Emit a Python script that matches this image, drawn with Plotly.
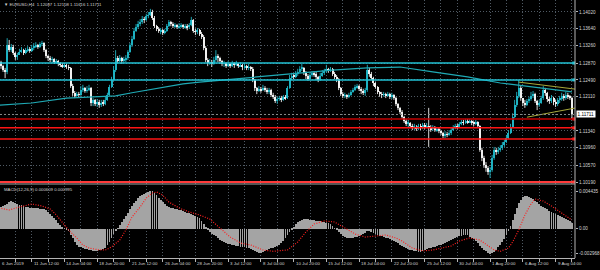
import plotly.graph_objects as go

# ---------------- data ----------------
closes = [
    1.1289, 1.1280, 1.1271, 1.1267, 1.1328, 1.1316, 1.1323, 1.1310, 1.1301, 1.1305,
    1.1312, 1.1316, 1.1310, 1.1316, 1.1319, 1.1314, 1.1321, 1.1325, 1.1328, 1.1323,
    1.1330, 1.1332, 1.1316, 1.1303, 1.1298, 1.1294, 1.1296, 1.1289, 1.1292, 1.1287,
    1.1283, 1.1280, 1.1283, 1.1278, 1.1276, 1.1235, 1.1220, 1.1213, 1.1217, 1.1215,
    1.1226, 1.1231, 1.1224, 1.1226, 1.1231, 1.1197, 1.1204, 1.1195, 1.1199, 1.1192,
    1.1197, 1.1195, 1.1204, 1.1215, 1.1233, 1.1249, 1.1271, 1.1298, 1.1292, 1.1298,
    1.1292, 1.1294, 1.1298, 1.1312, 1.1328, 1.1341, 1.1359, 1.1368, 1.1375, 1.1379,
    1.1386, 1.1384, 1.1393, 1.1395, 1.1402, 1.1388, 1.1370, 1.1364, 1.1359, 1.1361,
    1.1355, 1.1359, 1.1370, 1.1379, 1.1375, 1.1370, 1.1373, 1.1368, 1.1370, 1.1373,
    1.1368, 1.1370, 1.1368, 1.1373, 1.1384, 1.1359, 1.1357, 1.1361, 1.1352, 1.1346,
    1.1321, 1.1294, 1.1287, 1.1289, 1.1285, 1.1294, 1.1303, 1.1298, 1.1292, 1.1285,
    1.1287, 1.1280, 1.1285, 1.1280, 1.1287, 1.1283, 1.1285, 1.1280, 1.1283, 1.1278,
    1.1280, 1.1276, 1.1278, 1.1274, 1.1249, 1.1231, 1.1224, 1.1229, 1.1226, 1.1231,
    1.1226, 1.1222, 1.1226, 1.1215, 1.1211, 1.1202, 1.1206, 1.1208, 1.1204, 1.1211,
    1.1208, 1.1231, 1.1253, 1.1258, 1.1256, 1.1262, 1.1267, 1.1274, 1.1276, 1.1265,
    1.1258, 1.1251, 1.1260, 1.1265, 1.1262, 1.1256, 1.1249, 1.1258, 1.1265, 1.1269,
    1.1274, 1.1269, 1.1274, 1.1262, 1.1256, 1.1251, 1.1231, 1.1217, 1.1213, 1.1215,
    1.1211, 1.1215, 1.1222, 1.1226, 1.1233, 1.1235, 1.1229, 1.1224, 1.1220, 1.1226,
    1.1271, 1.1262, 1.1253, 1.1242, 1.1233, 1.1222, 1.1217, 1.1215, 1.1217, 1.1213,
    1.1217, 1.1211, 1.1215, 1.1208, 1.1195, 1.1186, 1.1177, 1.1165, 1.1156, 1.1150,
    1.1152, 1.1145, 1.1141, 1.1143, 1.1138, 1.1145, 1.1141, 1.1147, 1.1143, 1.1145,
    1.1141, 1.1138, 1.1143, 1.1136, 1.1138, 1.1134, 1.1129, 1.1123, 1.1127, 1.1125,
    1.1129, 1.1136, 1.1143, 1.1145, 1.1143, 1.1150, 1.1154, 1.1152, 1.1156, 1.1154,
    1.1156, 1.1152, 1.1150, 1.1154, 1.1145, 1.1091, 1.1073, 1.1057, 1.1051, 1.1042,
    1.1046, 1.1073, 1.1091, 1.1087, 1.1091, 1.1096, 1.1102, 1.1109, 1.1118, 1.1129,
    1.1143, 1.1165, 1.1192, 1.1213, 1.1231, 1.1208, 1.1197, 1.1192, 1.1202, 1.1206,
    1.1213, 1.1217, 1.1202, 1.1192, 1.1197, 1.1208, 1.1226, 1.1220, 1.1206, 1.1202,
    1.1208, 1.1199, 1.1195, 1.1204, 1.1206, 1.1213, 1.1208, 1.1215, 1.1211, 1.12087,
    1.11711,
]
highs = [
    1.1298, 1.1292, 1.1283, 1.1276, 1.1343, 1.1339, 1.1330, 1.1328, 1.1312, 1.1310,
    1.1319, 1.1323, 1.1319, 1.1321, 1.1325, 1.1323, 1.1328, 1.1332, 1.1334, 1.1330,
    1.1334, 1.1337, 1.1334, 1.1319, 1.1305, 1.1303, 1.1301, 1.1298, 1.1296, 1.1294,
    1.1289, 1.1287, 1.1287, 1.1285, 1.1283, 1.1278, 1.1240, 1.1224, 1.1222, 1.1222,
    1.1235, 1.1238, 1.1233, 1.1235, 1.1238, 1.1233, 1.1208, 1.1206, 1.1206, 1.1204,
    1.1204, 1.1204, 1.1211, 1.1220, 1.1238, 1.1256, 1.1280, 1.1316, 1.1303, 1.1305,
    1.1301, 1.1301, 1.1305, 1.1316, 1.1332, 1.1348, 1.1366, 1.1375, 1.1382, 1.1386,
    1.1393, 1.1391, 1.1398, 1.1402, 1.1409, 1.1407, 1.1393, 1.1373, 1.1368, 1.1366,
    1.1364, 1.1364, 1.1375, 1.1384, 1.1382, 1.1379, 1.1377, 1.1375, 1.1377, 1.1377,
    1.1375, 1.1375, 1.1375, 1.1377, 1.1391, 1.1386, 1.1364, 1.1366, 1.1364, 1.1357,
    1.1350, 1.1325, 1.1298, 1.1296, 1.1294, 1.1301, 1.1316, 1.1307, 1.1301, 1.1294,
    1.1292, 1.1289, 1.1292, 1.1287, 1.1292, 1.1289, 1.1292, 1.1287, 1.1289, 1.1285,
    1.1285, 1.1283, 1.1285, 1.1280, 1.1278, 1.1251, 1.1233, 1.1235, 1.1233, 1.1238,
    1.1235, 1.1231, 1.1231, 1.1229, 1.1220, 1.1215, 1.1211, 1.1213, 1.1213, 1.1215,
    1.1215, 1.1235, 1.1260, 1.1265, 1.1262, 1.1269, 1.1274, 1.1280, 1.1285, 1.1278,
    1.1269, 1.1262, 1.1265, 1.1269, 1.1269, 1.1267, 1.1258, 1.1265, 1.1271, 1.1274,
    1.1283, 1.1276, 1.1278, 1.1276, 1.1267, 1.1260, 1.1253, 1.1233, 1.1222, 1.1220,
    1.1217, 1.1220, 1.1226, 1.1231, 1.1238, 1.1240, 1.1238, 1.1233, 1.1229, 1.1231,
    1.1283, 1.1276, 1.1267, 1.1256, 1.1244, 1.1235, 1.1224, 1.1222, 1.1222, 1.1220,
    1.1222, 1.1220, 1.1220, 1.1217, 1.1211, 1.1197, 1.1188, 1.1181, 1.1168, 1.1161,
    1.1159, 1.1154, 1.1150, 1.1150, 1.1147, 1.1150, 1.1150, 1.1152, 1.1152, 1.1152,
    1.1186, 1.1147, 1.1147, 1.1145, 1.1143, 1.1141, 1.1136, 1.1132, 1.1134, 1.1132,
    1.1136, 1.1141, 1.1147, 1.1150, 1.1150, 1.1154, 1.1159, 1.1159, 1.1161, 1.1161,
    1.1161, 1.1159, 1.1156, 1.1159, 1.1156, 1.1147, 1.1096, 1.1078, 1.1064, 1.1055,
    1.1053, 1.1080, 1.1098, 1.1096, 1.1098, 1.1102, 1.1109, 1.1114, 1.1125, 1.1136,
    1.1150, 1.1174, 1.1204, 1.1222, 1.1249, 1.1235, 1.1208, 1.1204, 1.1206, 1.1211,
    1.1222, 1.1224, 1.1220, 1.1204, 1.1204, 1.1213, 1.1235, 1.1231, 1.1222, 1.1211,
    1.1215, 1.1211, 1.1204, 1.1208, 1.1213, 1.1220, 1.1217, 1.1222, 1.1220, 1.1215,
    1.12108,
]
lows = [
    1.1280, 1.1274, 1.1267, 1.1253, 1.1262, 1.1312, 1.1312, 1.1305, 1.1294, 1.1294,
    1.1305, 1.1310, 1.1305, 1.1307, 1.1312, 1.1310, 1.1312, 1.1316, 1.1321, 1.1319,
    1.1321, 1.1325, 1.1312, 1.1298, 1.1292, 1.1289, 1.1287, 1.1285, 1.1285, 1.1280,
    1.1278, 1.1276, 1.1276, 1.1274, 1.1271, 1.1231, 1.1213, 1.1208, 1.1211, 1.1211,
    1.1213, 1.1222, 1.1220, 1.1220, 1.1224, 1.1190, 1.1190, 1.1190, 1.1188, 1.1186,
    1.1188, 1.1190, 1.1192, 1.1202, 1.1213, 1.1231, 1.1247, 1.1267, 1.1287, 1.1289,
    1.1285, 1.1287, 1.1289, 1.1294, 1.1310, 1.1323, 1.1339, 1.1357, 1.1364, 1.1370,
    1.1375, 1.1377, 1.1382, 1.1388, 1.1393, 1.1384, 1.1366, 1.1359, 1.1355, 1.1352,
    1.1350, 1.1352, 1.1357, 1.1368, 1.1370, 1.1366, 1.1366, 1.1364, 1.1364, 1.1366,
    1.1364, 1.1364, 1.1361, 1.1364, 1.1370, 1.1355, 1.1350, 1.1352, 1.1348, 1.1341,
    1.1316, 1.1289, 1.1280, 1.1283, 1.1278, 1.1283, 1.1289, 1.1289, 1.1285, 1.1280,
    1.1278, 1.1276, 1.1278, 1.1276, 1.1278, 1.1276, 1.1280, 1.1276, 1.1278, 1.1271,
    1.1274, 1.1271, 1.1271, 1.1269, 1.1244, 1.1224, 1.1217, 1.1222, 1.1220, 1.1224,
    1.1222, 1.1217, 1.1217, 1.1211, 1.1206, 1.1197, 1.1195, 1.1202, 1.1199, 1.1202,
    1.1204, 1.1206, 1.1229, 1.1249, 1.1251, 1.1253, 1.1258, 1.1265, 1.1269, 1.1260,
    1.1251, 1.1247, 1.1249, 1.1256, 1.1256, 1.1249, 1.1244, 1.1247, 1.1256, 1.1260,
    1.1265, 1.1265, 1.1267, 1.1258, 1.1251, 1.1244, 1.1226, 1.1213, 1.1208, 1.1208,
    1.1206, 1.1208, 1.1213, 1.1220, 1.1224, 1.1229, 1.1224, 1.1217, 1.1215, 1.1213,
    1.1222, 1.1256, 1.1249, 1.1235, 1.1229, 1.1217, 1.1211, 1.1208, 1.1211, 1.1208,
    1.1211, 1.1206, 1.1206, 1.1204, 1.1190, 1.1181, 1.1172, 1.1161, 1.1152, 1.1145,
    1.1143, 1.1141, 1.1136, 1.1136, 1.1134, 1.1136, 1.1136, 1.1138, 1.1138, 1.1141,
    1.1098, 1.1132, 1.1134, 1.1132, 1.1132, 1.1129, 1.1125, 1.1118, 1.1118, 1.1120,
    1.1123, 1.1125, 1.1134, 1.1138, 1.1138, 1.1141, 1.1147, 1.1147, 1.1150, 1.1150,
    1.1152, 1.1147, 1.1145, 1.1147, 1.1141, 1.1087, 1.1066, 1.1051, 1.1042, 1.1035,
    1.1028, 1.1042, 1.1069, 1.1080, 1.1082, 1.1087, 1.1091, 1.1098, 1.1107, 1.1116,
    1.1127, 1.1141, 1.1163, 1.1188, 1.1208, 1.1202, 1.1190, 1.1186, 1.1190, 1.1197,
    1.1202, 1.1208, 1.1197, 1.1181, 1.1188, 1.1195, 1.1204, 1.1213, 1.1199, 1.1195,
    1.1197, 1.1192, 1.1188, 1.1190, 1.1197, 1.1202, 1.1202, 1.1204, 1.1206, 1.1204,
    1.11616,
]
first_open = 1.1290

# cyan moving average, read at a few bars
ma_bars = [0, 16, 33, 49, 57, 65, 73, 82, 90, 98, 114, 131, 147, 163, 180, 196, 212, 229, 245, 261, 274, 280]
ma_values = [1.1192, 1.1197, 1.1208, 1.1211, 1.1213, 1.1220, 1.1226, 1.1233, 1.1240, 1.1244, 1.1251,
             1.1258, 1.1265, 1.1271, 1.1276, 1.1278, 1.1267, 1.1256, 1.1242, 1.1233, 1.1224, 1.1222]

cyan_levels = [1.1287, 1.1249]
red_levels = [1.1161, 1.1141, 1.1116, 1.1019]
last_price = 1.11711

tri_upper_bars = [254, 282]
tri_upper = [1.1244, 1.1228]
tri_lower_bars = [258, 282]
tri_lower = [1.1165, 1.1186]

macd_hist = [
    0.00243, 0.00254, 0.00266, 0.00278, 0.00290, 0.00313, 0.00325, 0.00313, 0.00302, 0.00290,
    0.00278, 0.00278, 0.00266, 0.00254, 0.00254, 0.00243, 0.00243, 0.00243, 0.00243, 0.00243,
    0.00231, 0.00231, 0.00231, 0.00219, 0.00195, 0.00172, 0.00148, 0.00124, 0.00101, 0.00065,
    0.00041, 0.00018, 0.00006, -0.00006, -0.00030, -0.00077, -0.00112, -0.00160, -0.00195, -0.00219,
    -0.00219, -0.00231, -0.00243, -0.00243, -0.00254, -0.00254, -0.00266, -0.00266, -0.00266, -0.00254,
    -0.00254, -0.00243, -0.00231, -0.00195, -0.00160, -0.00112, -0.00065, -0.00030, 0.00006, 0.00041,
    0.00077, 0.00112, 0.00148, 0.00183, 0.00231, 0.00266, 0.00302, 0.00325, 0.00361, 0.00384,
    0.00396, 0.00408, 0.00420, 0.00432, 0.004435, 0.00440, 0.00420, 0.00396, 0.00361, 0.00337,
    0.00313, 0.00290, 0.00266, 0.00254, 0.00243, 0.00243, 0.00231, 0.00231, 0.00219, 0.00219,
    0.00207, 0.00195, 0.00183, 0.00183, 0.00172, 0.00160, 0.00148, 0.00136, 0.00124, 0.00089,
    0.00053, 0.00018, -0.00018, -0.00041, -0.00065, -0.00077, -0.00089, -0.00112, -0.00136, -0.00148,
    -0.00160, -0.00172, -0.00183, -0.00183, -0.00195, -0.00195, -0.00207, -0.00207, -0.00219, -0.00219,
    -0.00219, -0.00231, -0.00231, -0.00243, -0.00254, -0.00266, -0.00278, -0.00285, -0.00285, -0.00278,
    -0.00266, -0.00254, -0.00243, -0.00231, -0.00231, -0.00219, -0.00207, -0.00195, -0.00172, -0.00148,
    -0.00112, -0.00077, -0.00041, -0.00006, 0.00018, 0.00053, 0.00077, 0.00089, 0.00101, 0.00112,
    0.00112, 0.00112, 0.00101, 0.00101, 0.00101, 0.00089, 0.00089, 0.00089, 0.00077, 0.00077,
    0.00065, 0.00065, 0.00053, 0.00030, 0.00006, -0.00018, -0.00041, -0.00065, -0.00089, -0.00101,
    -0.00112, -0.00112, -0.00112, -0.00112, -0.00101, -0.00101, -0.00089, -0.00077, -0.00065, -0.00053,
    -0.00030, -0.00030, -0.00041, -0.00053, -0.00065, -0.00077, -0.00089, -0.00089, -0.00101, -0.00112,
    -0.00112, -0.00124, -0.00136, -0.00148, -0.00160, -0.00172, -0.00195, -0.00207, -0.00219, -0.00231,
    -0.00243, -0.00254, -0.00254, -0.00266, -0.00266, -0.00278, -0.00278, -0.00266, -0.00254, -0.00243,
    -0.00231, -0.00231, -0.00219, -0.00219, -0.00207, -0.00195, -0.00195, -0.00183, -0.00172, -0.00160,
    -0.00148, -0.00136, -0.00124, -0.00112, -0.00101, -0.00089, -0.00089, -0.00077, -0.00077, -0.00077,
    -0.00101, -0.00112, -0.00124, -0.00148, -0.00172, -0.00207, -0.00231, -0.00254, -0.00266, -0.00285,
    -0.002968, -0.00290, -0.00278, -0.00254, -0.00219, -0.00195, -0.00160, -0.00124, -0.00077, -0.00030,
    0.00030, 0.00101, 0.00172, 0.00243, 0.00302, 0.00337, 0.00373, 0.00384, 0.00384, 0.00373,
    0.00361, 0.00349, 0.00325, 0.00313, 0.00290, 0.00266, 0.00254, 0.00243, 0.00231, 0.00207,
    0.00195, 0.00183, 0.00172, 0.00160, 0.00148, 0.00136, 0.00124, 0.00112, 0.00101, 0.00089,
    0.000609,
]
signal_bars = [0, 5, 10, 16, 21, 25, 28, 31, 34, 38, 41, 44, 49, 52, 55, 59, 62, 65, 69, 72, 75, 77, 80,
               83, 88, 93, 98, 103, 108, 113, 118, 123, 129, 134, 141, 146, 150, 154, 159, 164, 169, 174,
               179, 184, 189, 194, 197, 202, 207, 212, 221, 225, 230, 235, 239, 242, 245, 249, 251, 254,
               257, 260, 262, 266, 270, 275, 280]
signal_values = [0.00243, 0.00219, 0.00254, 0.00290, 0.00266, 0.00231, 0.00160, 0.00077, -0.00018,
                 -0.00112, -0.00195, -0.00231, -0.00254, -0.00254, -0.00219, -0.00136, -0.00018, 0.00136,
                 0.00254, 0.00361, 0.00420, 0.00432, 0.00396, 0.00313, 0.00243, 0.00195, 0.00160, 0.00112,
                 0.00006, -0.00101, -0.00172, -0.00195, -0.00254, -0.00270, -0.00254, -0.00160, -0.00041,
                 0.00053, 0.00089, 0.00077, 0.00006, -0.00065, -0.00101, -0.00089, -0.00077, -0.00112,
                 -0.00148, -0.00231, -0.00265, -0.00254, -0.00207, -0.00148, -0.00112, -0.00136, -0.00207,
                 -0.00254, -0.00270, -0.00231, -0.00160, -0.00018, 0.00160, 0.00290, 0.00349, 0.00325,
                 0.00266, 0.00183, 0.000995]

# 1.11730 sits under the current-price box in the reference, so it is not listed
price_ticks = [1.14020, 1.13640, 1.13260, 1.12870, 1.12490, 1.12110, 1.11340, 1.10960, 1.10570, 1.10190]
price_tick_labels = ["1.14020", "1.13640", "1.13260", "1.12870", "1.12490", "1.12110",
                     "1.11340", "1.10960", "1.10570", "1.10190"]
macd_ticks = [0.004435, 0.0, -0.002968]
macd_tick_labels = ["0.004435", "0.00", "-0.002968"]
time_labels = ["6 Jun 2019", "11 Jun 12:00", "14 Jun 04:00", "18 Jun 20:00", "21 Jun 12:00",
               "26 Jun 04:00", "28 Jun 20:00", "3 Jul 12:00", "8 Jul 04:00", "10 Jul 20:00",
               "15 Jul 12:00", "18 Jul 04:00", "22 Jul 20:00", "25 Jul 12:00", "30 Jul 04:00",
               "1 Aug 20:00", "6 Aug 12:00", "9 Aug 04:00"]
header_text = "\u25bc EURUSD,H4  1.12087 1.12108 1.11616 1.11711"
macd_text = "MACD(12,26,9) 0.000609 0.000995"

# ---------------- styles ----------------
BG = "black"
GRID = "#505a64"
AXIS = "#b4b4b4"
TXT = "#d4d4d4"
BULL = "#1fb2c2"
BEAR = "#f0f0f0"
CYAN = "#22c2d4"
MA_COL = "#1fa9b4"
TRI = "#a8a83a"
FONT = "Liberation Sans"

n = len(closes)
bars = list(range(n))
opens = [first_open] + closes[:-1]
x_lo, x_hi = 0.5, n + 0.5
main_dom = [0.2868, 1.0]
macd_dom = [0.0, 0.2791]

fig = go.Figure()

# MACD panel
fig.add_trace(go.Bar(x=bars, y=macd_hist, width=0.42, marker=dict(color="#a4a4a4", line=dict(width=0)),
                     hoverinfo="skip", xaxis="x2", yaxis="y2"))
fig.add_trace(go.Scatter(x=signal_bars, y=signal_values, mode="lines",
                         line=dict(color="#ff2020", width=1.2, dash="1px,1.5px"),
                         hoverinfo="skip", xaxis="x2", yaxis="y2"))

# candles: wicks + bodies, split by direction
for up, col in ((True, BULL), (False, BEAR)):
    idx = [i for i in bars if (closes[i] >= opens[i]) == up]
    wx, wy = [], []
    for i in idx:
        wx += [i, i, None]
        wy += [lows[i], highs[i], None]
    fig.add_trace(go.Scatter(x=wx, y=wy, mode="lines", line=dict(color=col, width=0.9),
                             hoverinfo="skip", xaxis="x", yaxis="y"))
    fig.add_trace(go.Bar(x=idx, base=[min(opens[i], closes[i]) for i in idx],
                         y=[max(abs(closes[i] - opens[i]), 0.00003) for i in idx],
                         width=0.5, marker=dict(color=col, line=dict(width=0)),
                         hoverinfo="skip", xaxis="x", yaxis="y"))

fig.add_trace(go.Scatter(x=ma_bars, y=ma_values, mode="lines", line=dict(color=MA_COL, width=1.2),
                         hoverinfo="skip", xaxis="x", yaxis="y"))
fig.add_trace(go.Scatter(x=tri_upper_bars, y=tri_upper, mode="lines", line=dict(color=TRI, width=1),
                         hoverinfo="skip", xaxis="x", yaxis="y"))
fig.add_trace(go.Scatter(x=tri_lower_bars, y=tri_lower, mode="lines", line=dict(color=TRI, width=1),
                         hoverinfo="skip", xaxis="x", yaxis="y"))

# level markers on the price scale edge
lvl_all = cyan_levels + red_levels
lvl_cols = [CYAN] * len(cyan_levels) + ["#ff2020"] * len(red_levels)
fig.add_trace(go.Scatter(x=[x_hi - 0.6] * len(lvl_all), y=lvl_all, mode="markers",
                         marker=dict(symbol="square", size=3, color=lvl_cols), cliponaxis=False,
                         hoverinfo="skip", xaxis="x", yaxis="y"))

shapes = []
for lv in cyan_levels:
    shapes.append(dict(type="line", xref="paper", x0=0, x1=1, yref="y", y0=lv, y1=lv,
                       line=dict(color=CYAN, width=1.5)))
red_cols = ["#c40000", "#ff1414", "#ff1414", "#ff3a3a"]
red_w = [1.5, 1.5, 1.5, 2]
for lv, c, w in zip(red_levels, red_cols, red_w):
    shapes.append(dict(type="line", xref="paper", x0=0, x1=1, yref="y", y0=lv, y1=lv,
                       line=dict(color=c, width=w)))
shapes.append(dict(type="line", xref="paper", x0=0, x1=1, yref="y", y0=last_price, y1=last_price,
                   line=dict(color="#8a8a8a", width=1, dash="2px,2px")))
# frame: price-scale edge and panel separator
shapes.append(dict(type="line", xref="paper", x0=1, x1=1, yref="paper", y0=0, y1=1,
                   line=dict(color=AXIS, width=1)))
shapes.append(dict(type="line", xref="paper", x0=0, x1=1, yref="paper", y0=main_dom[0], y1=main_dom[0],
                   line=dict(color="#a8a8a8", width=1)))

annotations = []
time_bars = [x_lo] + [16 * k for k in range(1, len(time_labels))]
for tb, tl in zip(time_bars, time_labels):
    annotations.append(dict(x=tb, xref="x2", y=-0.023, yref="paper", text=tl, showarrow=False,
                            xanchor="left", yanchor="middle", font=dict(size=4.4, color=TXT, family=FONT)))
annotations.append(dict(x=0.004, xref="paper", y=1 - 4.5 / 258, yref="paper", text=header_text,
                        showarrow=False, xanchor="left", yanchor="middle",
                        font=dict(size=4.3, color=TXT, family=FONT)))
annotations.append(dict(x=0.004, xref="paper", y=(258 - 189.5) / 258, yref="paper", text=macd_text,
                        showarrow=False, xanchor="left", yanchor="middle",
                        font=dict(size=4.3, color=TXT, family=FONT)))
annotations.append(dict(x=1, xref="paper", xshift=1, y=last_price, yref="y", text="1.11711",
                        showarrow=False, xanchor="left", yanchor="middle", bgcolor="white",
                        borderpad=0.6, font=dict(size=4.6, color="black", family=FONT)))

grid_bars = list(range(8, n + 1, 8))
ax_common = dict(range=[x_lo, x_hi], tickvals=grid_bars, showgrid=True, gridcolor=GRID,
                 griddash="1px,2px", gridwidth=1, zeroline=False, showticklabels=False, fixedrange=True)

fig.update_layout(
    width=600, height=270,
    margin=dict(l=0, r=25, t=0, b=12, pad=0),
    paper_bgcolor=BG, plot_bgcolor=BG,
    showlegend=False, barmode="overlay", bargap=0,
    font=dict(family=FONT, color=TXT, size=5),
    xaxis=dict(domain=[0, 1], anchor="y", ticks="", showline=False, **ax_common),
    xaxis2=dict(domain=[0, 1], anchor="y2", matches="x", ticks="outside", ticklen=3, tickcolor=AXIS,
                showline=True, linecolor=AXIS, linewidth=1, **ax_common),
    yaxis=dict(domain=main_dom, anchor="x", side="right", range=[1.101449, 1.1429],
               tickvals=price_ticks, ticktext=price_tick_labels, ticks="outside", ticklen=2,
               tickcolor=AXIS, showgrid=True, gridcolor=GRID, griddash="1px,2px", zeroline=False,
               tickfont=dict(size=4.6, color=TXT, family=FONT), fixedrange=True),
    yaxis2=dict(domain=macd_dom, anchor="x2", side="right", range=[-0.00349, 0.00503],
                tickvals=macd_ticks, ticktext=macd_tick_labels, ticks="outside", ticklen=2,
                tickcolor=AXIS, showgrid=False, zeroline=False,
                tickfont=dict(size=4.6, color=TXT, family=FONT), fixedrange=True),
    shapes=shapes,
    annotations=annotations,
)

fig.write_html("out.html")
